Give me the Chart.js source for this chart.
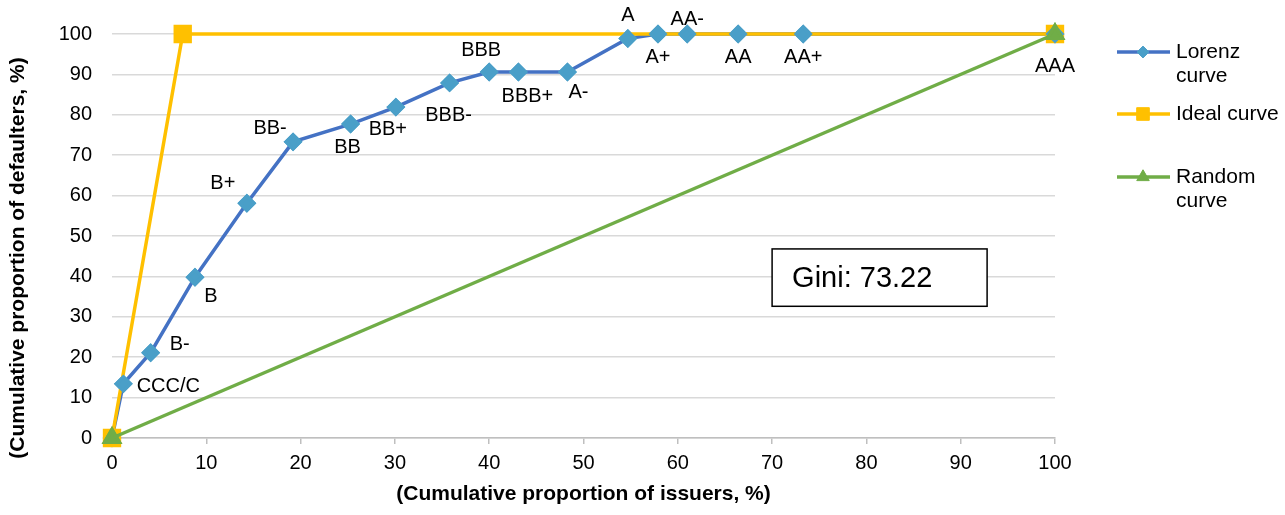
<!DOCTYPE html>
<html>
<head>
<meta charset="utf-8">
<script src="https://cdn.jsdelivr.net/npm/chart.js@4/dist/chart.umd.min.js"></script>
<style>
    html, body { margin: 0; padding: 0; background: #fff; }
    #wrap { width: 1285px; height: 515px; }
</style>
</head>
<body>
<div id="wrap"><canvas id="chart"></canvas></div>
<script>
    'use strict';

    // Lorenz curve (cumulative % of issuers vs cumulative % of defaulters)
    const ratings = ['', 'CCC/C', 'B-', 'B', 'B+', 'BB-', 'BB', 'BB+', 'BBB-', 'BBB', 'BBB+', 'A-', 'A', 'A+', 'AA-', 'AA', 'AA+', 'AAA'];
    const issuersPct = [0, 1.2, 4.1, 8.8, 14.3, 19.2, 25.3, 30.1, 35.8, 40.0, 43.1, 48.3, 54.7, 57.9, 61.0, 66.4, 73.3, 100];
    const defaultersPct = [0, 13.4, 21.1, 39.8, 58.1, 73.3, 77.7, 81.9, 87.9, 90.6, 90.6, 90.6, 98.9, 100, 100, 100, 100, 100];

    const idealX = [0, 7.5, 100];
    const idealY = [0, 100, 100];
    const randomX = [0, 100];
    const randomY = [0, 100];

    const giniValue = 73.22;

    // label offsets (px) from each Lorenz point to the text centre
    const labelDx = [0, 45, 29, 16, -24, -23, -3, -8, -1, -8, 9, 11, 0, 0, 0, 0, 0, 0];
    const labelDy = [0, 3, -8, 19, -20, -13, 23, 22, 33, -21, 25, 21, -23, 23, -15, 23, 23, 32];

    const FONT = "'Liberation Sans', Arial, sans-serif";
    const BLUE = '#4472c4';
    const BLUE_MARK = '#4a9fc8';
    const GOLD = '#ffc000';
    const GREEN = '#70ad47';

    const toPoints = (xs, ys) => xs.map((x, i) => ({x: x, y: ys[i]}));

    // Excel-style: markers end up above every line
    const markersOnTop = {
        id: 'markersOnTop',
        afterDatasetsDraw(chart) {
            const ctx = chart.ctx;
            const lorenz = chart.getDatasetMeta(1);
            const random = chart.getDatasetMeta(0);
            lorenz.data.forEach((pt, i) => { if (i > 0) pt.draw(ctx); });
            random.data.forEach((pt) => pt.draw(ctx));

            ctx.save();
            ctx.font = '20px ' + FONT;
            ctx.fillStyle = '#000';
            ctx.textAlign = 'center';
            ctx.textBaseline = 'middle';
            lorenz.data.forEach((pt, i) => {
                if (!ratings[i]) return;
                ctx.fillText(ratings[i], pt.x + labelDx[i], pt.y + labelDy[i]);
            });
            ctx.restore();
        }
    };

    const extras = {
        id: 'extras',
        afterDraw(chart) {
            const ctx = chart.ctx;
            const xs = chart.scales.x;
            const ys = chart.scales.y;
            ctx.save();

            // y axis title
            ctx.font = 'bold 21px ' + FONT;
            ctx.fillStyle = '#000';
            ctx.textAlign = 'center';
            ctx.textBaseline = 'middle';
            ctx.translate(18, 258);
            ctx.rotate(-Math.PI / 2);
            ctx.fillText('(Cumulative proportion of defaulters, %)', 0, 0);
            ctx.rotate(Math.PI / 2);
            ctx.translate(-18, -258);

            // Gini box
            const bx = xs.getPixelForValue(70);
            const bx2 = xs.getPixelForValue(92.8);
            const by = ys.getPixelForValue(46.8);
            const by2 = ys.getPixelForValue(32.6);
            ctx.fillStyle = '#fff';
            ctx.fillRect(bx, by, bx2 - bx, by2 - by);
            ctx.strokeStyle = '#000';
            ctx.lineWidth = 1.5;
            ctx.strokeRect(bx, by, bx2 - bx, by2 - by);
            ctx.fillStyle = '#000';
            ctx.font = '29px ' + FONT;
            ctx.textAlign = 'left';
            ctx.fillText('Gini: ' + giniValue.toFixed(2), bx + 20, (by + by2) / 2 + 1);

            // legend
            const legend = [
                {lines: ['Lorenz', 'curve'], y: 52, ds: 1},
                {lines: ['Ideal curve'], y: 114, ds: 2},
                {lines: ['Random', 'curve'], y: 177, ds: 0}
            ];
            ctx.font = '21px ' + FONT;
            legend.forEach((item) => {
                const ds = chart.data.datasets[item.ds];
                ctx.strokeStyle = ds.borderColor;
                ctx.lineWidth = 3.5;
                ctx.beginPath();
                ctx.moveTo(1117, item.y);
                ctx.lineTo(1170, item.y);
                ctx.stroke();
                ctx.fillStyle = ds.pointBackgroundColor;
                ctx.strokeStyle = ds.pointBackgroundColor;
                ctx.lineWidth = 1;
                Chart.helpers.drawPoint(ctx, {pointStyle: ds.pointStyle, radius: ds.pointRadius * 0.85, rotation: 0, borderWidth: 1}, 1143, item.y);
                ctx.fillStyle = '#000';
                item.lines.forEach((t, k) => ctx.fillText(t, 1176, item.y + k * 24));
            });
            ctx.restore();
        }
    };

    new Chart(document.getElementById('chart').getContext('2d'), {
        type: 'line',
        data: {
            datasets: [{
                label: 'Random curve',
                data: toPoints(randomX, randomY),
                borderColor: GREEN,
                borderWidth: 3.5,
                pointStyle: 'triangle',
                pointRadius: 8.5,
                pointBackgroundColor: GREEN,
                pointBorderColor: GREEN,
                clip: false,
                order: 0
            }, {
                label: 'Lorenz curve',
                data: toPoints(issuersPct, defaultersPct),
                borderColor: BLUE,
                borderWidth: 3.5,
                pointStyle: 'rectRot',
                pointRadius: 7,
                pointBackgroundColor: BLUE_MARK,
                pointBorderColor: BLUE_MARK,
                clip: false,
                order: 2
            }, {
                label: 'Ideal curve',
                data: toPoints(idealX, idealY),
                borderColor: GOLD,
                borderWidth: 3.5,
                pointStyle: 'rect',
                pointRadius: 10.5,
                pointBackgroundColor: GOLD,
                pointBorderColor: GOLD,
                clip: false,
                order: 1
            }]
        },
        options: {
            responsive: true,
            maintainAspectRatio: false,
            animation: false,
            layout: {padding: {top: 34, right: 230, bottom: 0, left: 0}},
            plugins: {
                legend: {display: false},
                tooltip: {enabled: false}
            },
            elements: {line: {tension: 0}},
            scales: {
                x: {
                    type: 'linear',
                    min: 0,
                    max: 100,
                    afterFit: (s) => { s.height = 77; },
                    ticks: {stepSize: 10, padding: 7, color: '#000', font: {family: FONT, size: 20}},
                    grid: {drawOnChartArea: false, drawTicks: true, tickLength: 6, color: '#bfbfbf', lineWidth: 1.5},
                    border: {display: true, color: '#bfbfbf', width: 1.5},
                    title: {
                        display: true,
                        text: '(Cumulative proportion of issuers, %)',
                        color: '#000',
                        font: {family: FONT, size: 21, weight: 'bold'},
                        padding: {top: 0, bottom: 8}
                    }
                },
                y: {
                    min: 0,
                    max: 100,
                    afterFit: (s) => { s.width = 112; },
                    ticks: {stepSize: 10, padding: 20, color: '#000', font: {family: FONT, size: 20}},
                    grid: {drawTicks: false, color: '#d9d9d9', lineWidth: 1.5},
                    border: {display: false}
                }
            }
        },
        plugins: [markersOnTop, extras]
    });
</script>
</body>
</html>
